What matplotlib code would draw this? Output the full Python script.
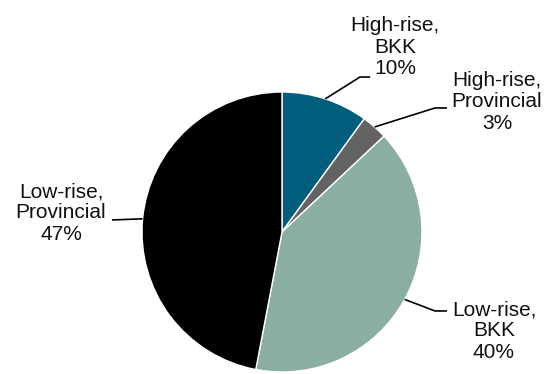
import numpy as np
import matplotlib.pyplot as plt

plt.rcParams['font.family'] = ['Liberation Sans', 'DejaVu Sans']

# data
categories = ['High-rise,\nBKK', 'High-rise,\nProvincial', 'Low-rise,\nBKK', 'Low-rise,\nProvincial']
shares = [10, 3, 40, 47]
colors = ['#005E7C', '#636363', '#8AAE9F', '#000000']

# label layout (data coords, pie radius = 1): text centre, elbow, line end
text_pos = [(0.807, 1.321), (1.536, 0.929), (1.514, -0.707), (-1.579, 0.136)]
elbow_pos = [(0.557, 1.107), (1.093, 0.886), (1.093, -0.564), (-1.0, 0.094)]
end_pos = [(0.629, 1.107), (1.179, 0.886), (1.179, -0.564), (-1.214, 0.086)]

fig = plt.figure(figsize=(5.53, 3.74), dpi=100)
cx, cy, r = 282, 232, 140
ax = fig.add_axes([(cx - r) / 553, (374 - cy - r) / 374, 2 * r / 553, 2 * r / 374])
wedges, _ = ax.pie(shares, colors=colors, startangle=90, counterclock=False,
                   wedgeprops=dict(edgecolor='white', linewidth=1))
ax.set_xlim(-1, 1)
ax.set_ylim(-1, 1)
ax.set_aspect('equal')
ax.axis('off')

for w, lab, val, tp, ep, end in zip(wedges, categories, shares, text_pos, elbow_pos, end_pos):
    ang = np.deg2rad((w.theta1 + w.theta2) / 2)
    x0, y0 = np.cos(ang), np.sin(ang)
    ax.plot([x0, ep[0], end[0]], [y0, ep[1], end[1]], color='black', lw=1.2,
            clip_on=False, solid_capstyle='butt')
    ax.text(tp[0], tp[1], f'{lab}\n{val}%', ha='center', va='center',
            fontsize=15, linespacing=1.15, color='#111111')

fig.savefig('out.png', dpi=100)
